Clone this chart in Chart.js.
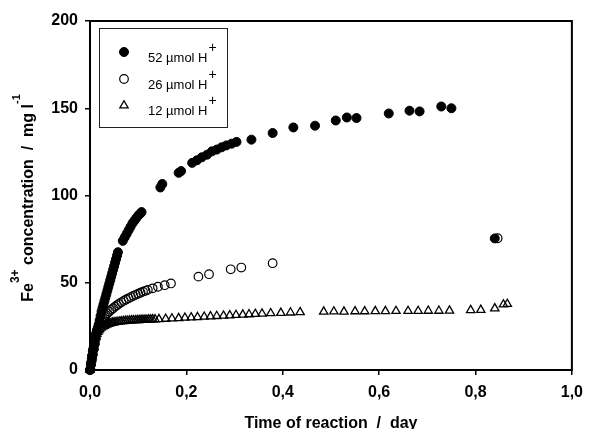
<!DOCTYPE html>
<html>
<head>
<meta charset="utf-8">
<script src="https://cdn.jsdelivr.net/npm/chart.js@4.4.0/dist/chart.umd.min.js"></script>
<style>
  html, body { margin: 0; padding: 0; background: #fff; }
  #wrap { width: 591px; height: 429px; }
</style>
</head>
<body>
<div id="wrap"><canvas id="chart" width="591" height="429"></canvas></div>
<script>
// Fe3+ concentration (mg/l) vs time of reaction (day)
const time52 = [0.000, 0.002, 0.004, 0.006, 0.008, 0.010, 0.012, 0.014, 0.016, 0.018,
                0.020, 0.022, 0.024, 0.026, 0.028, 0.030, 0.032, 0.034, 0.036, 0.038,
                0.040, 0.042, 0.044, 0.046, 0.048, 0.050, 0.052, 0.054, 0.056, 0.058,
                0.068, 0.072, 0.076, 0.080, 0.084, 0.088, 0.092, 0.096, 0.100, 0.104, 0.107,
                0.146, 0.150, 0.184, 0.189,
                0.212, 0.222, 0.232, 0.243, 0.253, 0.263, 0.273, 0.283, 0.294, 0.304,
                0.335, 0.379, 0.422, 0.467, 0.510, 0.533, 0.553, 0.620, 0.663, 0.684, 0.729, 0.750, 0.840];
const conc52 = [0, 3, 6, 9, 12, 15, 18, 21, 23.5, 26,
                28.5, 31, 33.5, 35.5, 37.5, 39.5, 41.5, 43.5, 45.5, 47.5,
                49.5, 51.5, 53.5, 55.5, 57.5, 59.5, 61.5, 63.5, 65.5, 67.5,
                74, 76, 78, 80, 82, 84, 85.5, 87, 88.5, 89.5, 90.5,
                104.6, 106.6, 113, 114,
                118.7, 120.2, 121.9, 123.4, 125.3, 126.3, 127.6, 128.7, 129.7, 130.7,
                132, 135.8, 139, 140, 143, 144.7, 144.4, 147, 148.6, 148.2, 151, 150, 75.4];

const time26 = [0.000, 0.002, 0.004, 0.006, 0.008, 0.010, 0.012, 0.014, 0.016, 0.018,
                0.021, 0.024, 0.027, 0.030, 0.033, 0.036,
                0.040, 0.044, 0.048, 0.052, 0.056, 0.060,
                0.065, 0.070, 0.075, 0.080, 0.085, 0.090, 0.095, 0.100, 0.105, 0.110, 0.115, 0.120,
                0.130, 0.141, 0.155, 0.168,
                0.225, 0.247, 0.292, 0.314, 0.379, 0.846];
const conc26 = [0, 4, 8, 11.5, 15, 18, 20.5, 22.5, 24, 25.3,
                26.8, 28.2, 29.5, 30.6, 31.6, 32.5,
                33.5, 34.5, 35.4, 36.3, 37.1, 37.9,
                38.8, 39.6, 40.4, 41.1, 41.8, 42.5, 43.1, 43.7, 44.3, 44.9, 45.4, 45.9,
                46.8, 47.7, 48.6, 49.6,
                53.5, 54.9, 57.7, 58.7, 61.2, 75.5];

const time12 = [0.000, 0.001, 0.002, 0.003, 0.004, 0.005, 0.006, 0.007, 0.008, 0.009, 0.010,
                0.012, 0.014, 0.016, 0.018, 0.020,
                0.023, 0.026, 0.029, 0.032, 0.035, 0.038, 0.041, 0.044, 0.047, 0.050,
                0.054, 0.058, 0.062, 0.066, 0.070, 0.074, 0.078, 0.082, 0.086, 0.090,
                0.094, 0.098, 0.102, 0.106, 0.110, 0.114, 0.118, 0.122, 0.126, 0.130, 0.135,
                0.143, 0.157, 0.170, 0.184, 0.197, 0.210, 0.223, 0.237, 0.250, 0.263, 0.277,
                0.290, 0.303, 0.317, 0.330, 0.343, 0.357, 0.375, 0.396, 0.416, 0.436,
                0.485, 0.506, 0.527, 0.550, 0.570, 0.592, 0.613, 0.635, 0.660, 0.681, 0.702, 0.724, 0.746,
                0.790, 0.811, 0.840, 0.858, 0.866];
const conc12 = [0, 2, 4, 6, 8, 10, 12, 13.5, 15, 16.3, 17.5,
                19.3, 20.7, 21.8, 22.7, 23.4,
                24.2, 24.8, 25.3, 25.7, 26.1, 26.4, 26.7, 26.9, 27.1, 27.3,
                27.5, 27.6, 27.8, 27.9, 28.0, 28.1, 28.2, 28.3, 28.4, 28.5,
                28.5, 28.6, 28.6, 28.7, 28.7, 28.8, 28.8, 28.9, 28.9, 29.0, 29.0,
                29.1, 29.3, 29.5, 29.7, 29.9, 30.1, 30.3, 30.5, 30.7, 30.9, 31.1,
                31.3, 31.5, 31.7, 31.9, 32.1, 32.3, 32.5, 32.7, 32.9, 33.1,
                33.4, 33.5, 33.4, 33.6, 33.6, 33.7, 33.7, 33.8, 33.8, 33.8, 33.9, 33.9, 34.0,
                34.3, 34.4, 35.3, 37.5, 37.8];

const xTicks = [0, 0.2, 0.4, 0.6, 0.8, 1.0];
const yTicks = [0, 50, 100, 150, 200];
const seriesLabels = ['52 µmol H', '26 µmol H', '12 µmol H'];

const FONT = "'Liberation Sans', Arial, Helvetica, sans-serif";
const toPoints = (xs, ys) => xs.map((x, i) => ({ x: x, y: ys[i] }));

// marker look per series (same order as seriesLabels); hollow ones are see-through
const markers = [
    { pointStyle: 'circle', radius: 4.5, fill: '#000', borderWidth: 1 },
    { pointStyle: 'circle', radius: 4.3, fill: 'rgba(0,0,0,0)', borderWidth: 1.2 },
    { pointStyle: 'triangle', radius: 4.8, fill: 'rgba(0,0,0,0)', borderWidth: 1.3 }
];

// draw a run of text pieces (for superscripts), centred on x
function drawRich(ctx, parts, x, y) {
    let total = 0;
    parts.forEach(p => {
        ctx.font = p.font;
        p.w = ctx.measureText(p.text).width;
        total += p.w;
    });
    let cx = x - total / 2;
    parts.forEach(p => {
        ctx.font = p.font;
        ctx.fillText(p.text, cx, y - (p.rise || 0));
        cx += p.w;
    });
}

const decorPlugin = {
    id: 'decor',
    afterDraw(chart) {
        const ctx = chart.ctx;
        const a = chart.chartArea;
        ctx.save();

        // frame round the plot
        ctx.strokeStyle = '#000';
        ctx.lineWidth = 2;
        ctx.strokeRect(a.left, a.top, a.right - a.left, a.bottom - a.top);

        ctx.fillStyle = '#000';
        ctx.textBaseline = 'alphabetic';
        ctx.textAlign = 'left';

        // x title
        drawRich(ctx, [{ text: 'Time of reaction  /  day', font: 'bold 16px ' + FONT }],
            (a.left + a.right) / 2, 428);

        // y title (rotated)
        ctx.save();
        ctx.translate(33, 198);
        ctx.rotate(-Math.PI / 2);
        drawRich(ctx, [
            { text: 'Fe', font: 'bold 16px ' + FONT },
            { text: '3+', font: 'bold 12px ' + FONT, rise: 14 },
            { text: ' concentration  /  mg l', font: 'bold 16px ' + FONT },
            { text: '-1', font: 'bold 11px ' + FONT, rise: 13 }
        ], 0, 0);
        ctx.restore();

        // legend
        ctx.lineWidth = 1;
        ctx.strokeStyle = '#222';
        ctx.strokeRect(99.5, 28.5, 128, 99);
        const rowY = [52, 79, 105.5];
        seriesLabels.forEach((label, i) => {
            const m = markers[i];
            ctx.fillStyle = m.fill;
            ctx.strokeStyle = '#000';
            ctx.lineWidth = m.borderWidth;
            Chart.helpers.drawPoint(ctx, { pointStyle: m.pointStyle, radius: m.radius, borderWidth: m.borderWidth, rotation: 0 }, 124, rowY[i]);
            ctx.fillStyle = '#000';
            ctx.font = '13px ' + FONT;
            const base = rowY[i] + 9.5;
            ctx.fillText(label, 148, base);
            const w = ctx.measureText(label).width;
            ctx.font = '14px ' + FONT;
            ctx.fillText('+', 148 + w + 1, base - 10);
        });

        ctx.restore();
    }
};

const datasetFor = (xs, ys, i, order) => ({
    label: seriesLabels[i],
    data: toPoints(xs, ys),
    pointStyle: markers[i].pointStyle,
    pointRadius: markers[i].radius,
    pointBackgroundColor: markers[i].fill,
    pointBorderColor: '#000',
    pointBorderWidth: markers[i].borderWidth,
    showLine: false,
    clip: false,
    order: order
});

new Chart(document.getElementById('chart').getContext('2d'), {
    type: 'scatter',
    data: {
        datasets: [
            datasetFor(time52, conc52, 0, 3),
            datasetFor(time26, conc26, 1, 2),
            datasetFor(time12, conc12, 2, 1)
        ]
    },
    options: {
        responsive: false,
        animation: false,
        events: [],
        layout: { padding: { left: 0, right: 13, top: 21, bottom: 0 } },
        plugins: {
            legend: { display: false },
            tooltip: { enabled: false }
        },
        scales: {
            x: {
                type: 'linear',
                min: 0,
                max: 1,
                afterBuildTicks: (scale) => { scale.ticks = xTicks.map(v => ({ value: v })); },
                afterFit: (scale) => { scale.height = 59; },
                grid: { drawOnChartArea: false, drawTicks: true, tickLength: 5, color: '#000', lineWidth: 1.5 },
                border: { display: true, color: '#000', width: 2 },
                ticks: {
                    color: '#000',
                    padding: 8,
                    maxRotation: 0,
                    autoSkip: false,
                    font: { family: FONT, size: 16, weight: 'bold' },
                    callback: (v) => Number(v).toFixed(1).replace('.', ',')
                }
            },
            y: {
                type: 'linear',
                min: 0,
                max: 200,
                afterBuildTicks: (scale) => { scale.ticks = yTicks.map(v => ({ value: v })); },
                afterFit: (scale) => { scale.width = 90; },
                grid: { drawOnChartArea: false, drawTicks: true, tickLength: 5, color: '#000', lineWidth: 1.5 },
                border: { display: true, color: '#000', width: 2 },
                ticks: {
                    color: '#000',
                    padding: 7,
                    autoSkip: false,
                    font: { family: FONT, size: 16, weight: 'bold' },
                    callback: (v) => String(v)
                }
            }
        }
    },
    plugins: [decorPlugin]
});
</script>
</body>
</html>
